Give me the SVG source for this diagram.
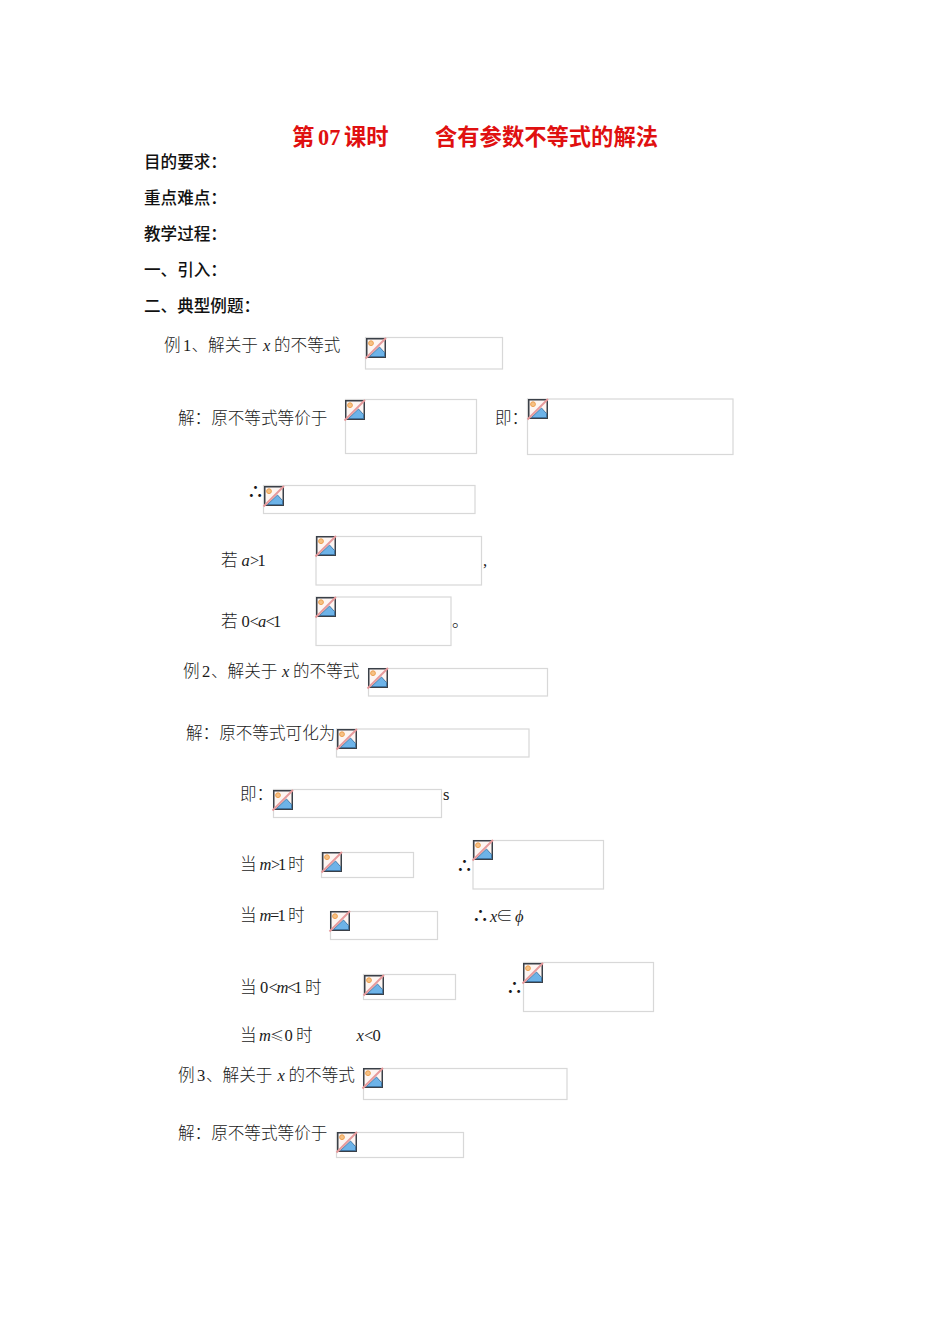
<svg xmlns="http://www.w3.org/2000/svg" width="950" height="1344" viewBox="0 0 950 1344">
<style>
text{font-family:"Liberation Serif","Noto Sans CJK SC",serif;fill:#1a1a1a;font-size:16.6px;font-weight:300}
.t{fill:#e01010;font-size:22.3px;font-weight:700}
.h{font-weight:500;fill:#111}
.i{font-style:italic;font-size:16.5px}
.l{font-size:16.5px}
.th{font-family:"Noto Sans CJK SC",sans-serif;font-weight:700;font-size:17px}
.le{font-family:"Noto Sans CJK SC",sans-serif;font-size:14px}
.b{fill:none;stroke:#d8d8d8;stroke-width:1.2}
</style>
<defs>
<g id="ic">
<rect x="0.75" y="0.75" width="18.5" height="18.5" fill="#fdf5f2" stroke="#3a4048" stroke-width="1.5"/>
<circle cx="5" cy="5.2" r="2.4" fill="#f6c184" stroke="#eda050" stroke-width="1"/>
<path d="M3.5 18.5L13.5 9L18.5 14.5V18.5Z" fill="#6db3e8" stroke="#2f6a9c" stroke-width=".8"/>
<path d="M-.5 20.5L20 0" stroke="#e69a9c" stroke-width="2"/>
</g>
</defs>
<g id="title"><text class="t" y="145"><tspan x="292">第</tspan><tspan x="318">07</tspan><tspan x="344">课时</tspan></text><text class="t" x="435" y="145">含有参数不等式的解法</text></g>
<g id="headings">
<text class="h" x="144" y="168">目的要求：</text>
<text class="h" x="144" y="204">重点难点：</text>
<text class="h" x="144" y="240">教学过程：</text>
<text class="h" x="144" y="276">一、引入：</text>
<text class="h" x="144" y="312">二、典型例题：</text>
</g>
<g id="labels">
<text y="351"><tspan x="164">例</tspan><tspan class="l" x="183">1</tspan><tspan x="191.5">、解关于</tspan><tspan class="i" x="263">x</tspan><tspan x="274">的不等式</tspan></text>
<text x="178" y="424">解：原不等式等价于</text>
<text x="495" y="424">即：</text>
<text class="th" x="247" y="498">∴</text>
<text y="566"><tspan x="221">若</tspan><tspan class="i" x="241.5">a</tspan><tspan class="l" x="250">&gt;</tspan><tspan class="l" x="257.5">1</tspan></text>
<text x="483" y="566">,</text>
<text y="627"><tspan x="221">若</tspan><tspan class="l" x="241.5">0</tspan><tspan class="l" x="249.5">&lt;</tspan><tspan class="i" x="258">a</tspan><tspan class="l" x="265.5">&lt;</tspan><tspan class="l" x="273">1</tspan></text>
<text x="452" y="627">。</text>
<text y="677"><tspan x="183">例</tspan><tspan class="l" x="202">2</tspan><tspan x="211">、解关于</tspan><tspan class="i" x="282">x</tspan><tspan x="293">的不等式</tspan></text>
<text x="186" y="739">解：原不等式可化为</text>
<text x="240" y="800">即：</text>
<text x="443" y="800" class="l">s</text>
<text y="870"><tspan x="240">当</tspan><tspan class="i" x="259.5">m</tspan><tspan class="l" x="271">&gt;</tspan><tspan class="l" x="278">1</tspan><tspan x="288">时</tspan></text>
<text class="th" x="456" y="872">∴</text>
<text y="921"><tspan x="240">当</tspan><tspan class="i" x="259.5">m</tspan><tspan class="l" x="270">=</tspan><tspan class="l" x="277.5">1</tspan><tspan x="288">时</tspan></text>
<text y="922"><tspan class="th" x="472">∴</tspan><tspan class="i" x="490">x</tspan><tspan x="496">∈</tspan><tspan class="i" x="515">ϕ</tspan></text>
<text y="993"><tspan x="240">当</tspan><tspan class="l" x="260">0</tspan><tspan class="l" x="268.5">&lt;</tspan><tspan class="i" x="276.5">m</tspan><tspan class="l" x="287">&lt;</tspan><tspan class="l" x="294">1</tspan><tspan x="305">时</tspan></text>
<text class="th" x="506" y="994">∴</text>
<text y="1041"><tspan x="240">当</tspan><tspan class="i" x="259">m</tspan><tspan class="le" x="270">≤</tspan><tspan class="l" x="284.5">0</tspan><tspan x="296">时</tspan></text>
<text y="1041"><tspan class="i" x="356.5">x</tspan><tspan class="l" x="364">&lt;</tspan><tspan class="l" x="372.5">0</tspan></text>
<text y="1081"><tspan x="178">例</tspan><tspan class="l" x="197">3</tspan><tspan x="206">、解关于</tspan><tspan class="i" x="277.5">x</tspan><tspan x="288.5">的不等式</tspan></text>
<text x="178" y="1139">解：原不等式等价于</text>
</g>
<g id="img1"><rect class="b" x="365.5" y="337.5" width="137" height="31.5"/><use href="#ic" x="366" y="338"/></g>
<g id="img2"><rect class="b" x="345.5" y="399.5" width="131" height="54"/><use href="#ic" x="345" y="400"/></g>
<g id="img3"><rect class="b" x="527.5" y="399" width="205.5" height="55.5"/><use href="#ic" x="528" y="399"/></g>
<g id="img4"><rect class="b" x="263.5" y="485.5" width="211.5" height="28"/><use href="#ic" x="264" y="486"/></g>
<g id="img5"><rect class="b" x="316" y="536.5" width="165.5" height="48.5"/><use href="#ic" x="316" y="536"/></g>
<g id="img6"><rect class="b" x="316" y="597" width="135" height="48.5"/><use href="#ic" x="316" y="597"/></g>
<g id="img7"><rect class="b" x="368.5" y="668.5" width="179" height="27.5"/><use href="#ic" x="368" y="668"/></g>
<g id="img8"><rect class="b" x="336.5" y="729" width="192.5" height="28"/><use href="#ic" x="337" y="729"/></g>
<g id="img9"><rect class="b" x="273.5" y="789.5" width="168" height="28"/><use href="#ic" x="273" y="790"/></g>
<g id="img10"><rect class="b" x="321.5" y="852.5" width="92" height="25"/><use href="#ic" x="322" y="852"/></g>
<g id="img11"><rect class="b" x="473" y="840.5" width="130.5" height="48.5"/><use href="#ic" x="473" y="840"/></g>
<g id="img12"><rect class="b" x="330.5" y="911.5" width="107" height="28"/><use href="#ic" x="330" y="911"/></g>
<g id="img13"><rect class="b" x="363.5" y="974.5" width="92" height="25"/><use href="#ic" x="364" y="975"/></g>
<g id="img14"><rect class="b" x="523.5" y="962.5" width="130" height="49"/><use href="#ic" x="523" y="963"/></g>
<g id="img15"><rect class="b" x="363.5" y="1068.5" width="203.5" height="31"/><use href="#ic" x="363" y="1068"/></g>
<g id="img16"><rect class="b" x="336.5" y="1132.5" width="127" height="25"/><use href="#ic" x="337" y="1132"/></g>
</svg>
